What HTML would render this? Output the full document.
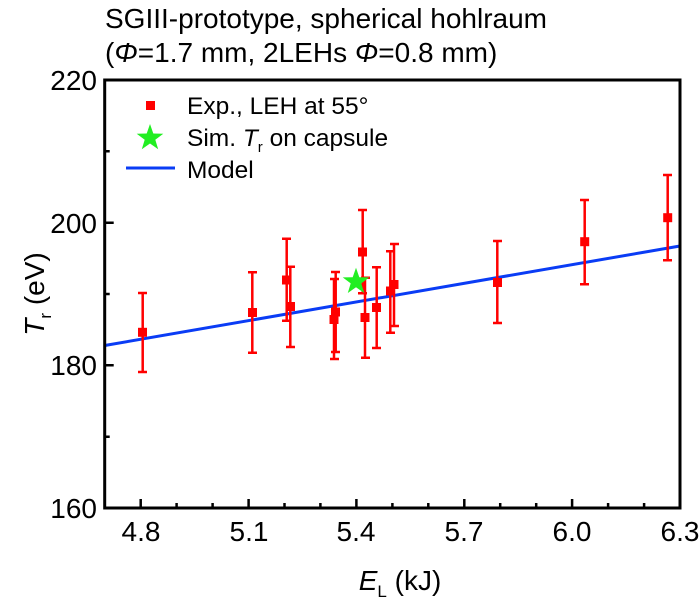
<!DOCTYPE html>
<html><head><meta charset="utf-8"><style>body{margin:0;background:#fff}svg{display:block}</style></head><body>
<svg width="700" height="606" viewBox="0 0 700 606" font-family="Liberation Sans, sans-serif" fill="#000">
<text x="105" y="28" font-size="28">SGIII-prototype, spherical hohlraum</text>
<text x="105" y="62" font-size="28">(<tspan font-style="italic">Φ</tspan>=1.7 mm, 2LEHs <tspan font-style="italic">Φ</tspan>=0.8 mm)</text>
<g stroke="#000" stroke-width="2.5">
<path d="M140.7 508v-9M248.6 508v-9M356.4 508v-9M464.3 508v-9M572.1 508v-9M176.6 508v-5M212.6 508v-5M284.5 508v-5M320.4 508v-5M392.4 508v-5M428.3 508v-5M500.2 508v-5M536.2 508v-5M608.1 508v-5M644.1 508v-5"/>
<path d="M104.7 365.3h9M104.7 222.7h9M104.7 436.7h5M104.7 294h5M104.7 151.3h5"/>
</g>
<g font-size="28" text-anchor="middle">
<text x="141" y="541">4.8</text><text x="249" y="541">5.1</text><text x="356" y="541">5.4</text><text x="464" y="541">5.7</text><text x="572" y="541">6.0</text><text x="680" y="541">6.3</text>
</g>
<g font-size="28" text-anchor="end">
<text x="97" y="518">160</text><text x="97" y="375">180</text><text x="97" y="233">200</text><text x="97" y="90">220</text>
</g>
<text x="400" y="590" font-size="28" text-anchor="middle"><tspan font-style="italic">E</tspan><tspan font-size="17" dy="7">L</tspan><tspan dy="-7"> (kJ)</tspan></text>
<text transform="translate(44,294) rotate(-90)" font-size="28" text-anchor="middle"><tspan font-style="italic">T</tspan><tspan font-size="17" dy="7">r</tspan><tspan dy="-7"> (eV)</tspan></text>
<line x1="104.7" y1="345.5" x2="680" y2="246" stroke="#0a3cf5" stroke-width="3"/>
<g stroke="#f00" stroke-width="2.5" fill="#f00">
<path d="M142.7 293v79M138 293h9M138 372h9"/>
<path d="M252.3 272.3v80.4M248 272.3h9M248 352.7h9"/>
<path d="M286.7 238.7v82M282 238.7h9M282 320.7h9"/>
<path d="M290.3 266.7v80.3M286 266.7h9M286 347h9"/>
<path d="M334 279v80M330 279h9M330 359h9"/>
<path d="M335.7 272v80M331 272h9M331 352h9"/>
<path d="M362.7 210v83.3M358 210h9M358 293.3h9"/>
<path d="M365 277.7v80M361 277.7h9M361 357.7h9"/>
<path d="M376.7 267.3v80.7M372 267.3h9M372 348h9"/>
<path d="M390.3 251.3v81.4M386 251.3h9M386 332.7h9"/>
<path d="M394 244v82M390 244h9M390 326h9"/>
<path d="M497.3 241v82M493 241h9M493 323h9"/>
<path d="M584.7 200v84.3M580 200h9M580 284.3h9"/>
<path d="M667.7 175v85.3M663 175h9M663 260.3h9"/>
</g>
<g fill="#f00">
<rect x="138" y="327.8" width="9" height="9"/>
<rect x="248" y="308" width="9" height="9"/>
<rect x="282" y="275.5" width="9" height="9"/>
<rect x="286" y="302" width="9" height="9"/>
<rect x="329.5" y="315" width="9" height="9"/>
<rect x="331" y="307.5" width="9" height="9"/>
<rect x="358" y="247.5" width="9" height="9"/>
<rect x="360.5" y="313" width="9" height="9"/>
<rect x="372" y="303" width="9" height="9"/>
<rect x="386" y="286.5" width="9" height="9"/>
<rect x="389.5" y="280" width="9" height="9"/>
<rect x="493" y="278" width="9" height="9"/>
<rect x="580.2" y="237.2" width="9" height="9"/>
<rect x="663.2" y="213.2" width="9" height="9"/>
<rect x="146" y="101" width="9" height="9"/>
</g>
<g fill="#22ee22">
<polygon transform="translate(356,281.7)" points="0,-14 3.3,-4.5 13.3,-4.3 5.3,1.7 8.2,11.3 0,5.5 -8.2,11.3 -5.3,1.7 -13.3,-4.3 -3.3,-4.5"/>
<polygon transform="translate(150,138)" points="0,-14 3.3,-4.5 13.3,-4.3 5.3,1.7 8.2,11.3 0,5.5 -8.2,11.3 -5.3,1.7 -13.3,-4.3 -3.3,-4.5"/>
</g>
<line x1="126" y1="168" x2="175" y2="168" stroke="#0a3cf5" stroke-width="3"/>
<g font-size="24.5">
<text x="187" y="114">Exp., LEH at 55°</text>
<text x="187" y="146">Sim. <tspan font-style="italic">T</tspan><tspan font-size="15" dy="6">r</tspan><tspan dy="-6"> on capsule</tspan></text>
<text x="187" y="178">Model</text>
</g>
<rect x="104.7" y="80" width="575.3" height="428" fill="none" stroke="#000" stroke-width="3"/>
</svg>
</body></html>
